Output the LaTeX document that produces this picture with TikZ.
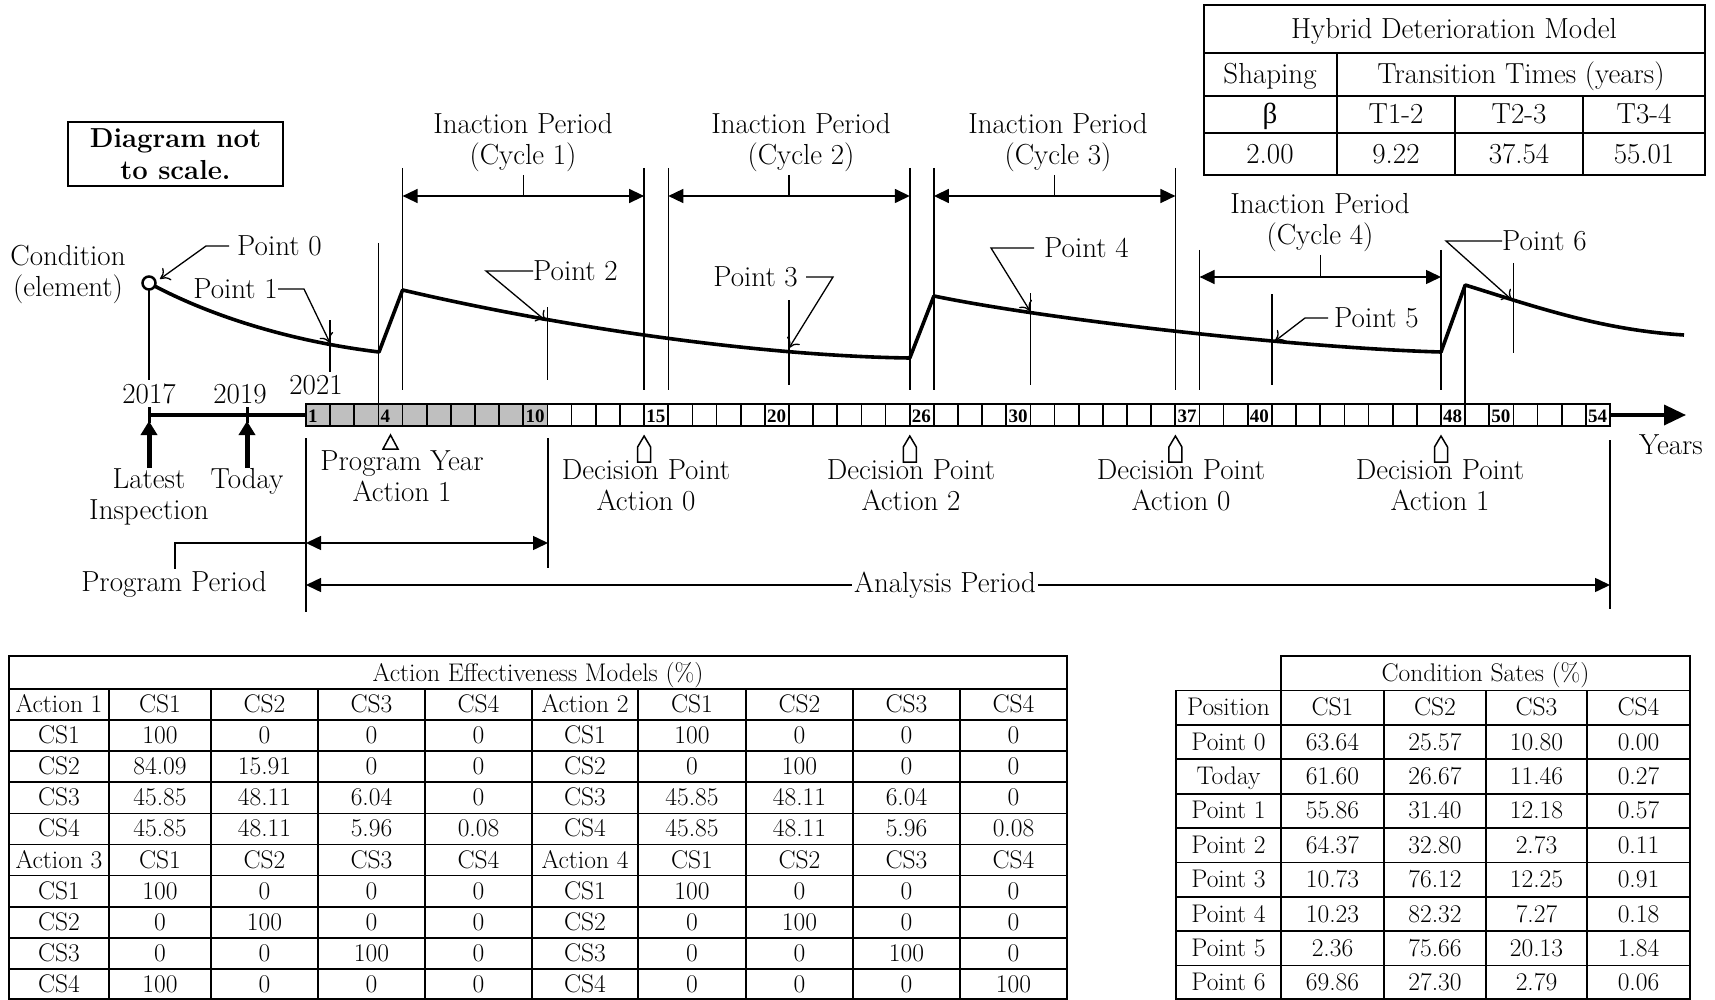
\documentclass[tikz,border=0pt]{standalone}
\usepackage{fontspec}
\newfontfamily\tms{Liberation Serif}
\usetikzlibrary{arrows.meta,calc}
\begin{document}
\begin{tikzpicture}[x=1pt,y=-1pt,
  lbl/.style={font=\fontsize{29}{31}\selectfont, align=center, inner sep=0pt},
  tb/.style={font=\fontsize{25.5}{28}\selectfont, inner sep=0pt, anchor=base},
  hb/.style={font=\fontsize{29}{31}\selectfont, inner sep=0pt, anchor=base},
  thinln/.style={line width=1.5pt},
  gridln/.style={line width=1.7pt},
  dimarr/.style={line width=1.5pt, {Triangle[length=15pt,width=14pt]}-{Triangle[length=15pt,width=14pt]}},
  lead/.style={line width=1.3pt, -{Computer Modern Rightarrow[length=9pt,width=15pt]}},
  curveln/.style={line width=3.6pt, line join=round},
  cellnum/.style={font=\fontsize{19}{19}\selectfont\tms\bfseries, anchor=west, inner sep=0pt},
  decmark/.style={line width=1.5pt, fill=white},
  uparr/.style={line width=5pt, -{Triangle[length=14pt,width=16pt]}}
]
\useasboundingbox (0,0) rectangle (1715,1000);

% ---------- vertical guide lines ----------
\foreach \xx/\ya/\yb in {149/290/380, 330/320/372, 378.5/243/404, 402.6/168/390,
  547.5/307/380, 644.1/168/390, 668.3/168/390, 789/300/385, 909.8/168/390,
  933.9/168/390, 1030.5/293/385, 1175.4/168/390, 1199.6/250/390, 1272/294/385,
  1441/250/390, 1465.2/285/404, 1513.5/263/353}
  {\draw[thinln] (\xx,\ya) -- (\xx,\yb);}

% ---------- inaction period dimension arrows ----------
\draw[dimarr] (402.6,196) -- (644.1,196);
\draw[thinln] (523.4,175) -- (523.4,196);
\draw[dimarr] (668.3,196) -- (909.8,196);
\draw[thinln] (789,175) -- (789,196);
\draw[dimarr] (933.9,196) -- (1175.4,196);
\draw[thinln] (1054.6,175) -- (1054.6,196);
\draw[dimarr] (1199.6,277) -- (1441,277);
\draw[thinln] (1320.3,255) -- (1320.3,277);

\node[lbl] (ip1) at (523,143) {Inaction Period\\(Cycle 1)};
\node[lbl] (ip2) at (801,143) {Inaction Period\\(Cycle 2)};
\node[lbl] (ip3) at (1058,143) {Inaction Period\\(Cycle 3)};
\node[lbl] (ip4) at (1320,223) {Inaction Period\\(Cycle 4)};

% ---------- condition curve ----------
\draw[curveln] (149,283) .. controls (200,311) and (280,340) .. (379,352)
  -- (402.6,290) .. controls (560,327) and (760,356) .. (909.8,358)
  -- (933.9,296) .. controls (1050,320) and (1300,348) .. (1441,352)
  -- (1465.2,285) .. controls (1530,305) and (1600,330) .. (1684,335);
\node[circle, draw, line width=2.5pt, minimum size=13pt, inner sep=0pt, fill=white] (p0c) at (149,283) {};

\node[lbl] (cond) at (68,274) {Condition\\(element)};

% ---------- point labels and leaders ----------
\node[lbl, anchor=west] (lp0) at (237,246) {Point 0};
\coordinate (t0) at (160,279);
\draw[lead] ([xshift=-8pt]lp0.west) -- (206,246) -- (t0);

\node[lbl, anchor=east] (lp1) at (278,289) {Point 1};
\coordinate (t1) at (330,343);
\draw[lead] (lp1.east) -- (304,289) -- (t1);

\node[lbl, anchor=west] (lp2) at (533,271) {Point 2};
\coordinate (t2) at (546,321);
\draw[lead] (lp2.west) -- (486,271) -- (t2);

\node[lbl, anchor=east] (lp3) at (798,277) {Point 3};
\coordinate (t3) at (789,348);
\draw[lead] ([xshift=8pt]lp3.east) -- (833,277) -- (t3);

\node[lbl, anchor=west] (lp4) at (1044,248) {Point 4};
\coordinate (t4) at (1030,311);
\draw[lead] ([xshift=-10pt]lp4.west) -- (991,248) -- (t4);

\node[lbl, anchor=west] (lp5) at (1334,318) {Point 5};
\coordinate (t5) at (1275,341);
\draw[lead] ([xshift=-6pt]lp5.west) -- (1305,318) -- (t5);

\node[lbl, anchor=west] (lp6) at (1502,241) {Point 6};
\coordinate (t6) at (1512,300);
\draw[lead] (lp6.west) -- (1446,241) -- (t6);

% ---------- note box ----------
\node[draw, line width=1.6pt, minimum width=215pt, minimum height=64pt, align=center,
  font=\fontsize{27.5}{32}\selectfont\bfseries, inner sep=0pt] (note) at (175.5,154) {Diagram not\\to scale.};

% ---------- time axis ----------
\draw[line width=3.5pt] (149,415) -- (306,415);
\draw[line width=3pt] (149,407) -- (149,423);
\draw[line width=3pt] (247,407) -- (247,423);
\foreach \i in {1,...,54}{
  \pgfmathsetmacro\xa{306+(\i-1)*24.148}
  \pgfmathsetmacro\xb{306+\i*24.148}
  \ifnum\i<11 \def\cf{black!25}\else\def\cf{white}\fi
  \draw[line width=1.7pt, fill=\cf] (\xa,404) rectangle (\xb,426);
}
\foreach \i in {1,4,10,15,20,26,30,37,40,48,50,54}{
  \pgfmathsetmacro\xa{306+(\i-1)*24.148+2}
  \node[cellnum] (n\i) at (\xa,416) {\i};
}
\draw[line width=3.5pt, -{Triangle[length=22pt,width=20pt]}] (1610,415) -- (1686,415);
\node[lbl] (years) at (1671,445) {Years};

\node[lbl] (y17) at (149,394) {2017};
\node[lbl] (y19) at (240,394) {2019};
\node[lbl] (y21) at (316,385) {2021};

\draw[uparr] (149,468) -- (149,421);
\draw[uparr] (247,468) -- (247,421);
\node[lbl] (li) at (149,497) {Latest\\Inspection};
\node[lbl] (td) at (247,481) {Today};

% program year marker
\draw[decmark] (390.5,435) -- (398,449) -- (383,449) -- cycle;
\node[lbl] (py) at (402,476) {Program Year\\Action 1};

% decision markers
\foreach \xx in {644.1, 909.8, 1175.4, 1441}{
  \draw[decmark] (\xx,436) -- (\xx+6.5,447) -- (\xx+6.5,462) -- (\xx-6.5,462) -- (\xx-6.5,447) -- cycle;
}
\node[lbl] (dp1) at (646,485) {Decision Point\\Action 0};
\node[lbl] (dp2) at (911,485) {Decision Point\\Action 2};
\node[lbl] (dp3) at (1181,485) {Decision Point\\Action 0};
\node[lbl] (dp4) at (1440,485) {Decision Point\\Action 1};

% ---------- program / analysis periods ----------
\draw[thinln] (306,438) -- (306,612);
\draw[thinln] (548,438) -- (548,568);
\draw[thinln] (1610,440) -- (1610,609);
\draw[dimarr] (306,543) -- (548,543);
\draw[thinln] (306,543) -- (175,543) -- (175,569);
\node[lbl] (pp) at (174,584) {Program Period};
\draw[dimarr] (306,585) -- (1610,585);
\node[lbl, fill=white, inner xsep=2pt] (ap) at (945,585) {Analysis Period};

% ---------- hybrid deterioration table ----------
\draw[gridln] (1204,5) rectangle (1705,175);
\draw[gridln] (1204,53) -- (1705,53) (1204,96) -- (1705,96) (1204,133) -- (1705,133);
\draw[gridln] (1337,53) -- (1337,175) (1455,96) -- (1455,175) (1583,96) -- (1583,175);
\node[hb] (h1) at (1454,38.5) {Hybrid Deterioration Model};
\node[hb] (h2) at (1270,84) {Shaping};
\node[hb] (h3) at (1521,84) {Transition Times (years)};
\node[hb] (h4) at (1270,124) {\tms β};
\node[hb] (h5) at (1396,124) {T1-2};
\node[hb] (h6) at (1519,124) {T2-3};
\node[hb] (h7) at (1644,124) {T3-4};
\node[hb] (h8) at (1270,163.5) {2.00};
\node[hb] (h9) at (1396,163.5) {9.22};
\node[hb] (h10) at (1519,163.5) {37.54};
\node[hb] (h11) at (1644,163.5) {55.01};

% ---------- action effectiveness table ----------
\draw[gridln] (9,656) rectangle (1067,999);
\foreach \yy in {689,720.1,751.2,782.3,813.4,844.5,875.6,906.7,937.8,968.9}
  {\draw[gridln] (9,\yy) -- (1067,\yy);}
\foreach \xx in {109,211,318,425,532,638,746,853,960}
  {\draw[gridln] (\xx,689) -- (\xx,999);}
\node[tb] (aem) at (538,681) {Action Effectiveness Models (\%)};
\foreach \r/\row in {
  1/{Action 1,CS1,CS2,CS3,CS4,Action 2,CS1,CS2,CS3,CS4},
  2/{CS1,100,0,0,0,CS1,100,0,0,0},
  3/{CS2,84.09,15.91,0,0,CS2,0,100,0,0},
  4/{CS3,45.85,48.11,6.04,0,CS3,45.85,48.11,6.04,0},
  5/{CS4,45.85,48.11,5.96,0.08,CS4,45.85,48.11,5.96,0.08},
  6/{Action 3,CS1,CS2,CS3,CS4,Action 4,CS1,CS2,CS3,CS4},
  7/{CS1,100,0,0,0,CS1,100,0,0,0},
  8/{CS2,0,100,0,0,CS2,0,100,0,0},
  9/{CS3,0,0,100,0,CS3,0,0,100,0},
  10/{CS4,100,0,0,0,CS4,0,0,0,100}}{
  \foreach \c [count=\k] in \row {
    \pgfmathsetmacro\cx{{59,160,264.5,371.5,478.5,585,692,799.5,906.5,1013.5}[\k-1]}
    \pgfmathsetmacro\cy{689+31.1*(\r-0.5)+8}
    \node[tb] (a\r-\k) at (\cx,\cy) {\c};
  }
}

% ---------- condition states table ----------
\draw[gridln] (1281,656) rectangle (1690,690.5);
\draw[gridln] (1176,690.5) rectangle (1690,999);
\foreach \yy in {724.9,759.3,793.7,828.1,862.4,896.8,931.2,965.6}
  {\draw[gridln] (1176,\yy) -- (1690,\yy);}
\foreach \xx in {1281,1384,1486,1587}
  {\draw[gridln] (\xx,690.5) -- (\xx,999);}
\node[tb] (cst) at (1485.5,681.5) {Condition Sates (\%)};
\foreach \r/\row in {
  1/{Position,CS1,CS2,CS3,CS4},
  2/{Point 0,63.64,25.57,10.80,0.00},
  3/{Today,61.60,26.67,11.46,0.27},
  4/{Point 1,55.86,31.40,12.18,0.57},
  5/{Point 2,64.37,32.80,2.73,0.11},
  6/{Point 3,10.73,76.12,12.25,0.91},
  7/{Point 4,10.23,82.32,7.27,0.18},
  8/{Point 5,2.36,75.66,20.13,1.84},
  9/{Point 6,69.86,27.30,2.79,0.06}}{
  \foreach \c [count=\k] in \row {
    \pgfmathsetmacro\cx{{1228.5,1332.5,1435,1536.5,1638.5}[\k-1]}
    \pgfmathsetmacro\cy{690.5+34.39*(\r-0.5)+8}
    \node[tb] (b\r-\k) at (\cx,\cy) {\c};
  }
}
\end{tikzpicture}
\end{document}
